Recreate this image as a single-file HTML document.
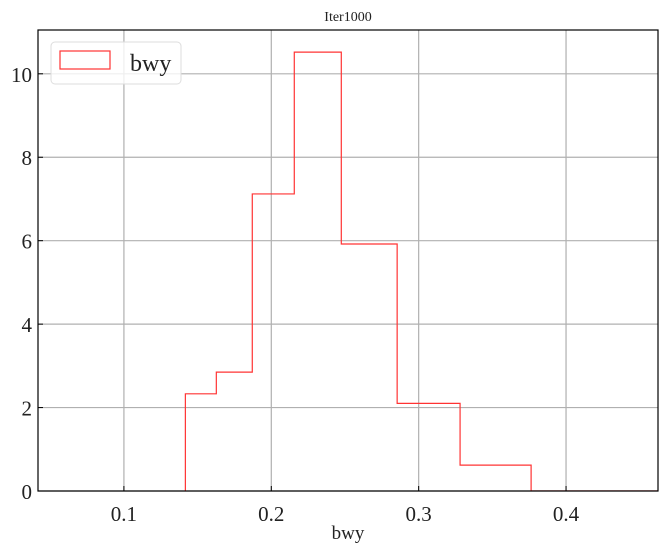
<!DOCTYPE html>
<html><head><meta charset="utf-8"><style>
body{margin:0;background:#fff}
svg text{font-family:"Liberation Serif",serif;fill:#222}
</style></head><body>
<svg width="667" height="552" xmlns="http://www.w3.org/2000/svg">
<defs><clipPath id="c"><rect x="38" y="30" width="620" height="461"/></clipPath></defs>
<g id="grid"></g>
<g id="bars" clip-path="url(#c)"></g>
<rect x="38" y="30" width="620" height="461" fill="none" stroke="#000" stroke-width="1.2"/>
<g id="ticks"></g>
<text x="348" y="21" font-size="14" text-anchor="middle">Iter1000</text>
<text x="348" y="539" font-size="19" text-anchor="middle">bwy</text>
<g>
<rect x="51" y="42" width="130" height="42" rx="4" fill="#fff" fill-opacity="0.8" stroke="#ddd"/>
<rect x="60" y="51" width="50" height="18" fill="none" stroke="#f33" stroke-width="1.2"/>
<text x="130" y="71" font-size="24">bwy</text>
</g>
</svg>
<script>
const binEdges=[0.1417,0.1627,0.1871,0.2156,0.2475,0.2854,0.3281,0.3763,0.47];
const binHeights=[2.33,2.85,7.12,10.52,5.92,2.1,0.62,0.0];
const xTicks=[0.1,0.2,0.3,0.4];
const xTickLabels=["0.1","0.2","0.3","0.4"];
const yTicks=[0,2,4,6,8,10];
const yTickLabels=["0","2","4","6","8","10"];
const X0=0.0417,X1=0.4624,Y0=0,Y1=11.05;
const L=38,R=658,T=30,B=491;
const sx=v=>L+(v-X0)/(X1-X0)*(R-L);
const sy=v=>B-(v-Y0)/(Y1-Y0)*(B-T);
const NS="http://www.w3.org/2000/svg";
const grid=document.getElementById('grid'),ticks=document.getElementById('ticks'),bars=document.getElementById('bars');
function mk(tag,attrs,parent){const e=document.createElementNS(NS,tag);for(const k in attrs)e.setAttribute(k,attrs[k]);parent.appendChild(e);return e;}
xTicks.forEach((v,i)=>{const x=sx(v);
 const g=mk('line',{x1:x,x2:x,y1:T,y2:B,stroke:'#b0b0b0','stroke-width':1.2},grid);
 
 
 const t=mk('line',{x1:x,x2:x,y1:B,y2:B-5,stroke:'#000'},ticks);
 
 
 const tx=mk('text',{x:x,y:B+30,'font-size':21,'text-anchor':'middle'},ticks);tx.textContent=xTickLabels[i];
 
 
});
yTicks.forEach((v,i)=>{const y=sy(v);
 const g=mk('line',{x1:L,x2:R,y1:y,y2:y,stroke:'#b0b0b0','stroke-width':1.2},grid);
 
 
 const t=mk('line',{x1:L,x2:L+5,y1:y,y2:y,stroke:'#000'},ticks);
 
 
 const tx=mk('text',{x:L-6,y:y+8,'font-size':21,'text-anchor':'end'},ticks);tx.textContent=yTickLabels[i];
 
 
});
let d='M'+sx(binEdges[0])+','+sy(0);
binHeights.forEach((h,i)=>{d+=' L'+sx(binEdges[i])+','+sy(h)+' L'+sx(binEdges[i+1])+','+sy(h);});
d+=' L'+sx(binEdges[binEdges.length-1])+','+sy(0);
const p=mk('path',{d:d,fill:'none',stroke:'#f33','stroke-width':1.2},bars);


</script>
</body></html>
